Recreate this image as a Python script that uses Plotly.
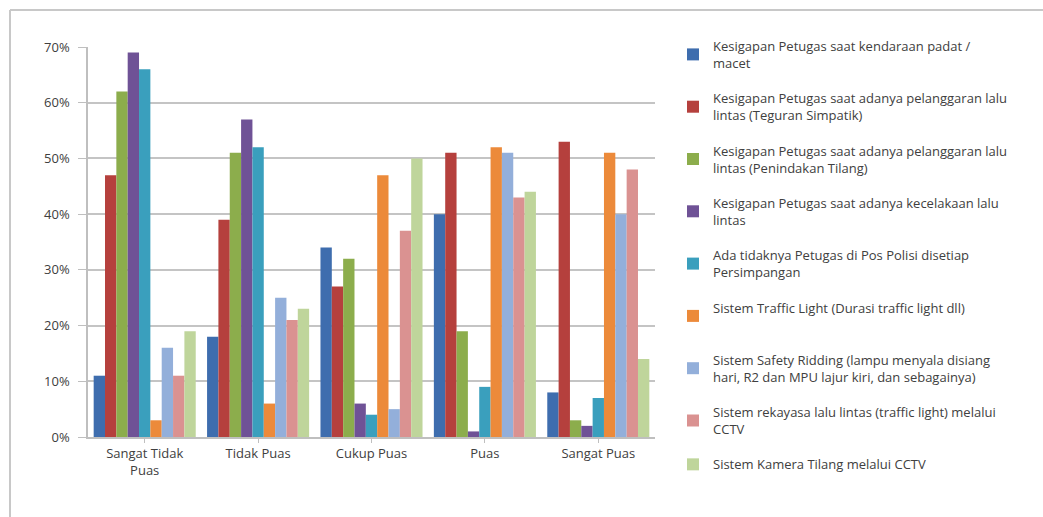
import plotly.graph_objects as go

categories = ["Sangat Tidak<br>Puas", "Tidak Puas", "Cukup Puas", "Puas", "Sangat Puas"]

series_names = [
    "Kesigapan Petugas saat kendaraan padat /<br>macet",
    "Kesigapan Petugas saat adanya pelanggaran lalu<br>lintas (Teguran Simpatik)",
    "Kesigapan Petugas saat adanya pelanggaran lalu<br>lintas (Penindakan Tilang)",
    "Kesigapan Petugas saat adanya kecelakaan lalu<br>lintas",
    "Ada tidaknya Petugas di Pos Polisi disetiap<br>Persimpangan",
    "Sistem Traffic Light (Durasi traffic light dll)<br> ",
    "Sistem Safety Ridding (lampu menyala disiang<br>hari, R2 dan MPU lajur kiri, dan sebagainya)",
    "Sistem rekayasa lalu lintas (traffic light) melalui<br>CCTV",
    "Sistem Kamera Tilang melalui CCTV",
]

s1 = [11, 18, 34, 40, 8]
s2 = [47, 39, 27, 51, 53]
s3 = [62, 51, 32, 19, 3]
s4 = [69, 57, 6, 1, 2]
s5 = [66, 52, 4, 9, 7]
s6 = [3, 6, 47, 52, 51]
s7 = [16, 25, 5, 51, 40]
s8 = [11, 21, 37, 43, 48]
s9 = [19, 23, 50, 44, 14]
series_values = [s1, s2, s3, s4, s5, s6, s7, s8, s9]

colors = ["#3E6DAE", "#B5403D", "#8CAD4C", "#6F5296", "#3A9FBD",
          "#EC8A3A", "#93AFDA", "#DA9291", "#BFD59B"]

fig = go.Figure()
for i, (name, vals) in enumerate(zip(series_names, series_values)):
    fig.add_trace(go.Bar(
        x=categories, y=vals, name=name,
        marker=dict(color=colors[i], line=dict(width=0)),
        legendgroup=f"g{i}",
    ))

fig.update_layout(
    width=1043, height=517,
    margin=dict(l=88, r=388, t=47, b=80),
    paper_bgcolor="white", plot_bgcolor="white",
    barmode="group", bargap=0.1, bargroupgap=0,
    font=dict(family="Open Sans, Noto Sans, sans-serif", size=13, color="#404040"),
    xaxis=dict(
        type="category", showgrid=False, showline=True, linecolor="#bfbfbf", linewidth=1.5,
        ticks="outside", ticklen=4, tickcolor="#bfbfbf",
        tickfont=dict(size=13, color="#404040"),
    ),
    yaxis=dict(
        range=[0, 70], dtick=10, ticksuffix="%",
        showgrid=True, gridcolor="#c4c4c4", gridwidth=1.5,
        showline=True, linecolor="#bfbfbf", linewidth=1.5,
        ticks="outside", ticklen=8, tickcolor="#bfbfbf",
        ticklabelstandoff=6,
        tickfont=dict(size=13, color="#404040"),
        zeroline=False,
    ),
    legend=dict(
        xref="container", yref="container",
        x=673 / 1043, y=1 - 31 / 517, xanchor="left", yanchor="top",
        font=dict(size=13, color="#404040"),
        tracegroupgap=15.5, itemwidth=30,
        maxheight=480,
        bgcolor="rgba(0,0,0,0)",
    ),
    showlegend=True,
)

fig.add_shape(type="line", xref="paper", yref="paper",
              x0=-78 / 567, x1=-78 / 567, y0=1 + 37 / 390, y1=-80 / 390,
              line=dict(color="#c8c8c8", width=2))
fig.add_shape(type="line", xref="paper", yref="paper",
              x0=-78 / 567, x1=(1043 - 88) / 567, y0=1 + 37 / 390, y1=1 + 37 / 390,
              line=dict(color="#c8c8c8", width=2))

fig.write_html("out.html")
